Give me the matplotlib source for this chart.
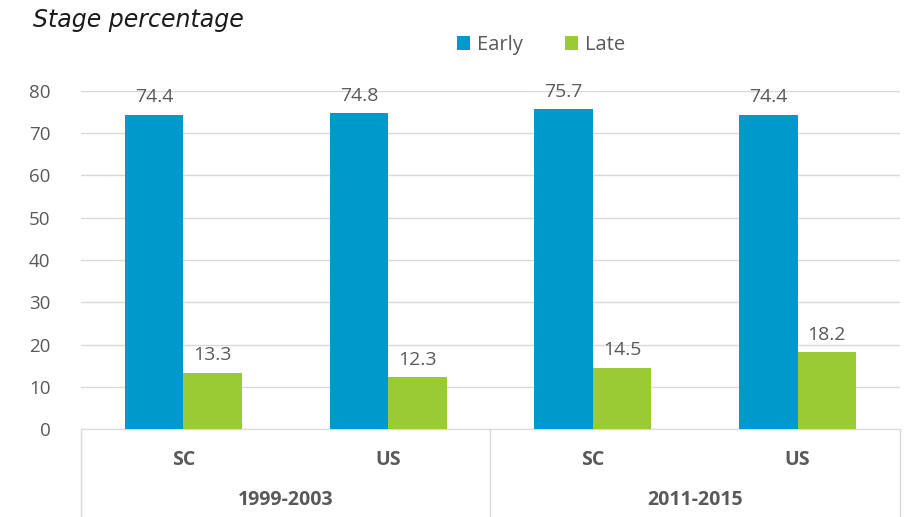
import numpy as np
import matplotlib.pyplot as plt
from matplotlib.lines import Line2D

# date
subgroups = ['SC', 'US', 'SC', 'US']
periods = ['1999-2003', '2011-2015']
early = [74.4, 74.8, 75.7, 74.4]
late = [13.3, 12.3, 14.5, 18.2]

blue = '#0099CC'
green = '#99CC33'
txt = '#595959'
grid_c = '#D9D9D9'

plt.rcParams['font.family'] = ['Open Sans', 'DejaVu Sans']

fig = plt.figure(figsize=(9.2, 5.17), dpi=100)
ax = fig.add_axes([81 / 920, 88 / 517, 819 / 920, 338 / 517])

x = np.arange(len(subgroups))
w = 0.286
b1 = ax.bar(x - w / 2, early, w, color=blue, label='Early', zorder=3)
b2 = ax.bar(x + w / 2, late, w, color=green, label='Late', zorder=3)

for bars in (b1, b2):
    for bar in bars:
        h = bar.get_height()
        ax.text(bar.get_x() + bar.get_width() / 2, h + 2.0, f'{h:.1f}',
                ha='center', va='bottom', fontsize=14, color=txt)

ax.set_xlim(-0.5, len(subgroups) - 0.5)
ax.set_ylim(0, 80)
ax.set_yticks(np.arange(0, 81, 10))
ax.yaxis.grid(True, color=grid_c, linewidth=1, zorder=0)
ax.tick_params(axis='y', length=0, labelsize=13.5, labelcolor=txt, pad=22)
ax.set_xticks([])
for s in ['top', 'right', 'left']:
    ax.spines[s].set_visible(False)
ax.spines['bottom'].set_color(grid_c)

# etichete pe doua nivele
for i, s in enumerate(subgroups):
    ax.text(i, -7.3, s, ha='center', va='center', fontsize=14,
            fontweight='bold', color=txt)
for j, p in enumerate(periods):
    ax.text(2 * j + 0.5, -16.8, p, ha='center', va='center', fontsize=14,
            fontweight='bold', color=txt)
for xv in [-0.5, 1.5, 3.5]:
    ax.add_line(Line2D([xv, xv], [0, -21], color=grid_c, linewidth=1,
                       clip_on=False))

fig.text(33 / 920, 1 - 20 / 517, 'Stage percentage', fontsize=17,
         style='italic', family='DejaVu Sans', color='#1a1a1a', va='center')
fig.legend(handles=[b1, b2], labels=['Early', 'Late'], loc='center',
           bbox_to_anchor=(541 / 920, 1 - 45 / 517), ncol=2, frameon=False,
           fontsize=14.5, labelcolor=txt, handlelength=0.65, handleheight=0.65,
           columnspacing=2.1, handletextpad=0.35)

plt.savefig('out.png')
